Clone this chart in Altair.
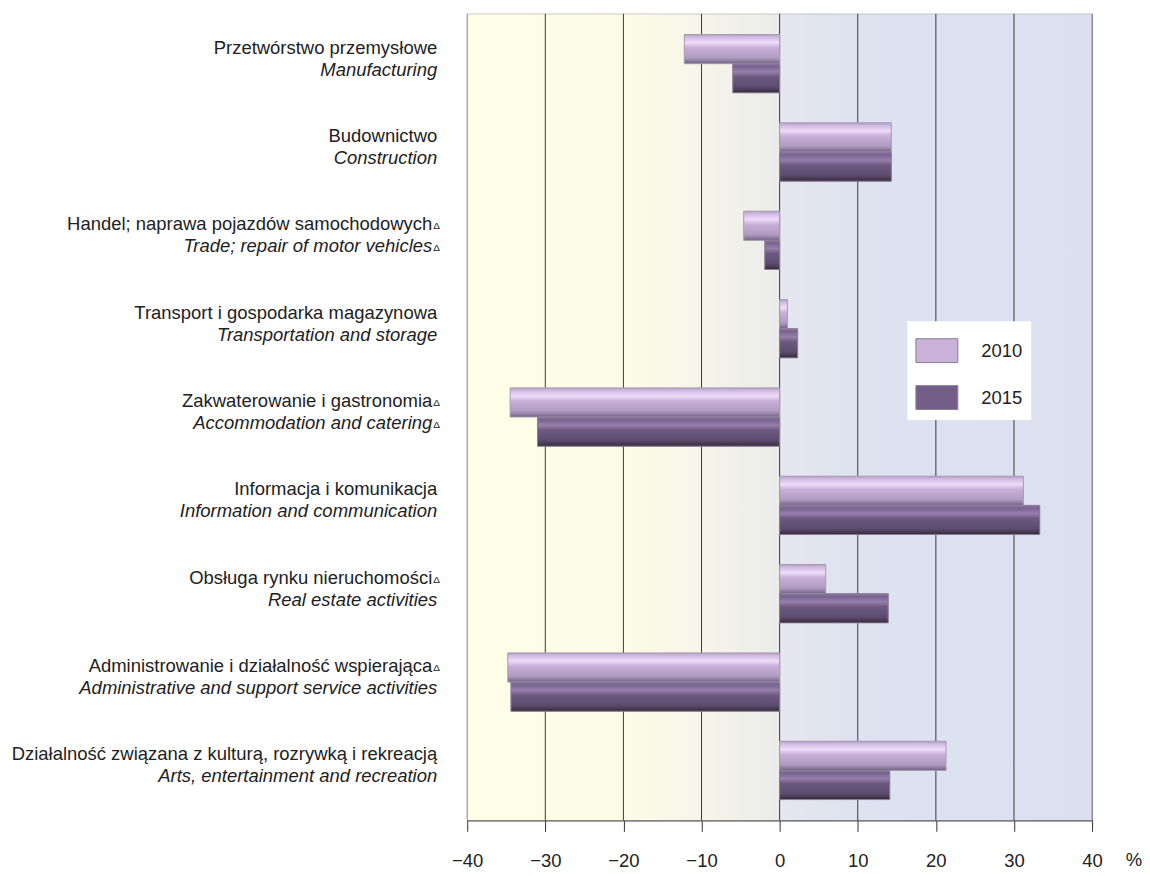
import altair as alt
import pandas as pd

FONT = "Liberation Sans, Arial, sans-serif"
FS = 18.5

categories_pl = [
    "Przetwórstwo przemysłowe",
    "Budownictwo",
    "Handel; naprawa pojazdów samochodowych",
    "Transport i gospodarka magazynowa",
    "Zakwaterowanie i gastronomia",
    "Informacja i komunikacja",
    "Obsługa rynku nieruchomości",
    "Administrowanie i działalność wspierająca",
    "Działalność związana z kulturą, rozrywką i rekreacją",
]
categories_en = [
    "Manufacturing",
    "Construction",
    "Trade; repair of motor vehicles",
    "Transportation and storage",
    "Accommodation and catering",
    "Information and communication",
    "Real estate activities",
    "Administrative and support service activities",
    "Arts, entertainment and recreation",
]
pl_delta = [False, False, True, False, True, False, True, True, False]
en_delta = [False, False, True, False, True, False, False, False, False]
values_2010 = [-12.2, 14.3, -4.6, 1.0, -34.5, 31.2, 5.9, -34.8, 21.3]
values_2015 = [-6.0, 14.3, -1.9, 2.3, -31.0, 33.3, 13.9, -34.4, 14.1]
years = ["2010", "2015"]
x_ticks = [-40, -30, -20, -10, 0, 10, 20, 30, 40]
unit_label = ["%"]
delta_mark = "Δ"

rows = []
for i, c in enumerate(categories_pl):
    rows.append({"cat": c, "year": "2010", "value": values_2010[i]})
    rows.append({"cat": c, "year": "2015", "value": values_2015[i]})
bars_df = pd.DataFrame(rows)
labels_df = pd.DataFrame({
    "cat": categories_pl, "en": categories_en,
    "pl_delta": pl_delta, "en_delta": en_delta, "mark": [delta_mark] * 9,
})
unit_df = pd.DataFrame({"unit": unit_label})
grid_df = pd.DataFrame({"value": x_ticks})

W, H = 626, 808

y_enc = alt.Y("cat:N", sort=categories_pl, axis=None,
              scale=alt.Scale(paddingInner=0.34, paddingOuter=0.235))
x_axis = alt.Axis(
    values=x_ticks, title=None, grid=False,
    domainColor="#333333", tickColor="#333333", tickSize=11,
    labelFontSize=FS, labelFont=FONT, labelColor="#222222",
    labelPadding=20, labelFlush=False,
)
x_enc = alt.X("value:Q", scale=alt.Scale(domain=[-40, 40], nice=False, zero=False),
              axis=x_axis)
yoff = alt.YOffset("year:N", scale=alt.Scale(domain=years))


def grad(stops, horizontal=False):
    return alt.Gradient(
        gradient="linear", x1=0, x2=1 if horizontal else 0, y1=0, y2=0 if horizontal else 1,
        stops=[alt.GradientStop(color=c, offset=o) for o, c in stops],
    )


g2010 = grad([(0, "#b49fc4"), (0.1, "#d2bce2"), (0.28, "#eedcf8"), (0.45, "#c8b0d9"),
              (0.8, "#b09bc1"), (0.92, "#8c7a9c"), (1, "#6d5e7e")])
g2015 = grad([(0, "#8b779d"), (0.1, "#786390"), (0.28, "#977fab"), (0.45, "#6d5980"),
              (0.8, "#5d4b6f"), (0.92, "#45384f"), (1, "#30283a")])
bg = grad([(0, "#fefde6"), (0.25, "#fdfce6"), (0.375, "#f6f5ea"), (0.44, "#f0f0ea"),
           (0.5, "#ebebea"), (0.5, "#e6e7ef"), (0.6, "#dee3f0"), (1, "#dae0ef")],
          horizontal=True)

background = alt.Chart(unit_df).mark_rect(color=bg).encode(
    x=alt.value(0), x2=alt.value(W), y=alt.value(0.5), y2=alt.value(H))

grid = alt.Chart(grid_df).mark_rule(strokeWidth=1).encode(
    x=x_enc,
    color=alt.condition("abs(datum.value) == 40", alt.value("#8a8a8a"), alt.value("#3a3a3a")),
)

base = alt.Chart(bars_df)

bars_legend = base.mark_bar().encode(
    x=x_enc, y=y_enc, yOffset=yoff,
    color=alt.Color(
        "year:N",
        scale=alt.Scale(domain=years, range=["#c9b1da", "#735e88"]),
        legend=alt.Legend(
            title=None, orient="none", legendX=441, legendY=308,
            fillColor="white", padding=8, rowPadding=11,
            symbolType="M-1,-0.57H1V0.57H-1Z", symbolSize=1764,
            symbolStrokeColor="#8a7c98", symbolStrokeWidth=1, symbolOpacity=1,
            labelFontSize=FS, labelFont=FONT, labelColor="#222222", labelOffset=23,
        ),
    ),
)
bars_2010 = base.transform_filter("datum.year == '2010'").mark_bar(
    color=g2010, stroke="#a89cb4", strokeWidth=1
).encode(x=x_enc, y=y_enc, yOffset=yoff)
bars_2015 = base.transform_filter("datum.year == '2015'").mark_bar(
    color=g2015, stroke="#8c8098", strokeWidth=1
).encode(x=x_enc, y=y_enc, yOffset=yoff)

lab = alt.Chart(labels_df)
txt = dict(fontSize=FS, font=FONT, color="#222222", align="right", baseline="alphabetic")
pl_plain = lab.transform_filter("!datum.pl_delta").mark_text(dy=-10, **txt).encode(
    y=y_enc, x=alt.value(-30), text="cat:N")
pl_d = lab.transform_filter("datum.pl_delta").mark_text(dy=-10, **txt).encode(
    y=y_enc, x=alt.value(-35), text="cat:N")
pl_dm = lab.transform_filter("datum.pl_delta").mark_text(
    dy=-11, fontSize=10, font=FONT, color="#222222", align="left", baseline="alphabetic"
).encode(y=y_enc, x=alt.value(-34), text="mark:N")
en_plain = lab.transform_filter("!datum.en_delta").mark_text(
    dy=12, fontStyle="italic", **txt).encode(y=y_enc, x=alt.value(-30), text="en:N")
en_d = lab.transform_filter("datum.en_delta").mark_text(
    dy=12, fontStyle="italic", **txt).encode(y=y_enc, x=alt.value(-35), text="en:N")
en_dm = lab.transform_filter("datum.en_delta").mark_text(
    dy=11, fontSize=10, font=FONT, color="#222222", align="left", baseline="alphabetic"
).encode(y=y_enc, x=alt.value(-34), text="mark:N")

unit = alt.Chart(unit_df).mark_text(
    fontSize=FS, font=FONT, color="#222222", align="center", baseline="top"
).encode(x=alt.value(668), y=alt.value(839), text="unit:N")

chart = alt.layer(
    background, grid, bars_legend, bars_2010, bars_2015,
    pl_plain, pl_d, pl_dm, en_plain, en_d, en_dm, unit
).properties(
    width=W, height=H,
    padding={"left": 460, "top": 5, "right": 50, "bottom": 50},
    autosize=alt.AutoSizeParams(type="none"),
    background="white",
).configure_view(stroke="#8a8a8a", strokeWidth=1)

chart.save("out.html", embed_options={"renderer": "svg", "actions": False})
